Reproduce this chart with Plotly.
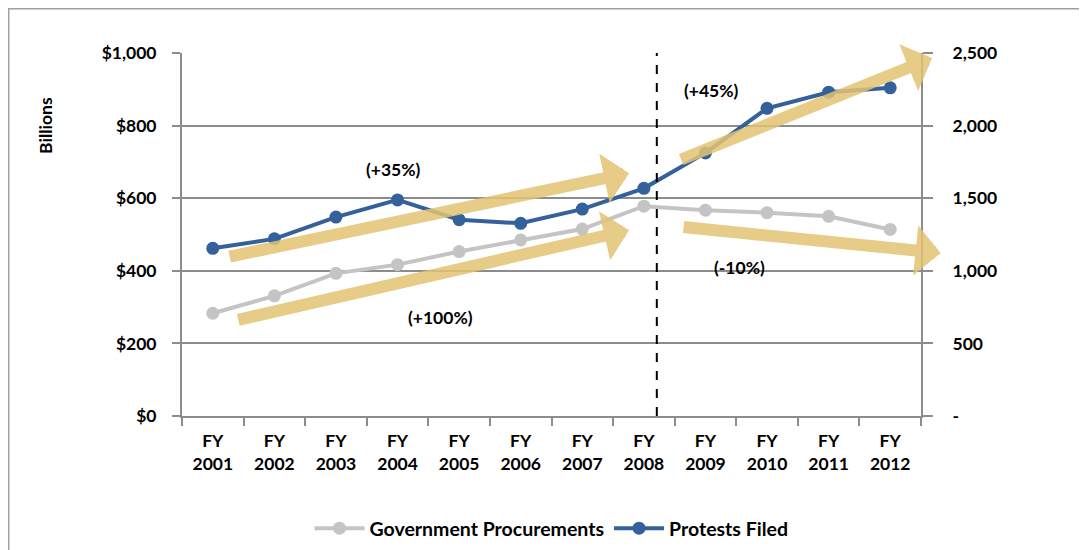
import plotly.graph_objects as go

# data
years = ['2001', '2002', '2003', '2004', '2005', '2006',
         '2007', '2008', '2009', '2010', '2011', '2012']
procurements = [283, 331, 393, 417, 453, 485, 515, 578, 567, 560, 550, 514]
protests = [1155, 1220, 1370, 1488, 1352, 1327, 1425, 1568, 1812, 2119, 2230, 2260]

left_ticks = [0, 200, 400, 600, 800, 1000]
left_labels = ['$0', '$200', '$400', '$600', '$800', '$1,000']
right_ticks = [0, 500, 1000, 1500, 2000, 2500]
right_labels = ['-', '500', '1,000', '1,500', '2,000', '2,500']

cats = ['FY<br>' + y for y in years]

gray = '#C4C4C4'
blue = '#34619A'
gold = '#E3C474'
axis_col = '#8C8C8C'
fnt = dict(family='Lato', size=17.5, color='black', weight='bold')

fig = go.Figure()
fig.add_trace(go.Scatter(x=cats, y=procurements, name='Government Procurements',
                         mode='lines+markers', line=dict(color=gray, width=4),
                         marker=dict(color=gray, size=13)))
fig.add_trace(go.Scatter(x=cats, y=protests, name='Protests Filed', yaxis='y2',
                         mode='lines+markers', line=dict(color=blue, width=4),
                         marker=dict(color=blue, size=13)))

# trend arrows (tail x, tail y, tip x, tip y) on the left axis scale
arrows = [
    (0.25, 438, 6.76, 669),
    (0.39, 264, 6.76, 512),
    (7.58, 705, 11.68, 986),
    (7.62, 521, 11.82, 449),
]
for ax0, ay0, x1, y1 in arrows:
    fig.add_annotation(x=x1, y=y1, ax=ax0, ay=ay0, xref='x', yref='y',
                       axref='x', ayref='y', text='', showarrow=True,
                       arrowhead=1, arrowsize=0.7, arrowwidth=12,
                       arrowcolor=gold, opacity=0.85)

labels = [('(+35%)', 2.93, 678), ('(+100%)', 3.70, 270),
          ('(+45%)', 8.10, 898), ('(-10%)', 8.56, 408)]
for txt, lx, ly in labels:
    fig.add_annotation(x=lx, y=ly, xref='x', yref='y', text=txt,
                       showarrow=False, font=fnt)

fig.add_annotation(x=-0.185, y=0.80, xref='paper', yref='paper', text='Billions',
                   xanchor='center', yanchor='middle',
                   showarrow=False, textangle=-90, font=fnt)

# dashed divider after FY 2008
fig.add_shape(type='line', x0=7.21, x1=7.21, y0=0, y1=1000, xref='x', yref='y',
              line=dict(color='black', width=2, dash='dash'))

# outer frame
fig.add_shape(type='rect', x0=-0.2355, x1=1.4, y0=-0.6, y1=1.124,
              xref='paper', yref='paper', line=dict(color='#A0A0A0', width=3))

fig.update_layout(
    width=1079, height=542,
    margin=dict(l=174, r=166, t=45, b=134, autoexpand=False),
    paper_bgcolor='white', plot_bgcolor='white',
    font=fnt,
    showlegend=True,
    legend=dict(orientation='h', x=0.5, xanchor='center', y=-0.31, yanchor='middle',
                font=dict(family='Lato', size=19.5, color='black', weight='bold'),
                itemwidth=50),
    xaxis=dict(type='category', tickson='boundaries', ticks='outside', ticklen=8,
               tickcolor=axis_col, tickwidth=2, showline=True, linecolor=axis_col,
               linewidth=2, showgrid=False, tickfont=fnt, ticklabelstandoff=8,
               range=[-0.5, 11.5], automargin=False),
    yaxis=dict(range=[0, 1000], tickvals=left_ticks, ticktext=left_labels,
               ticks='outside', ticklen=8, tickcolor=axis_col, tickwidth=2,
               showline=True, linecolor=axis_col, linewidth=2,
               gridcolor=axis_col, gridwidth=2, tickfont=fnt, ticklabelstandoff=12,
               zeroline=False, automargin=False),
    yaxis2=dict(range=[0, 2500], tickvals=right_ticks, ticktext=right_labels,
                overlaying='y', side='right', ticks='outside', ticklen=10,
                tickcolor=axis_col, tickwidth=2, showline=True, linecolor=axis_col,
                linewidth=2, showgrid=False, tickfont=fnt, ticklabelstandoff=16,
                zeroline=False, automargin=False),
)

fig.write_html('out.html')
